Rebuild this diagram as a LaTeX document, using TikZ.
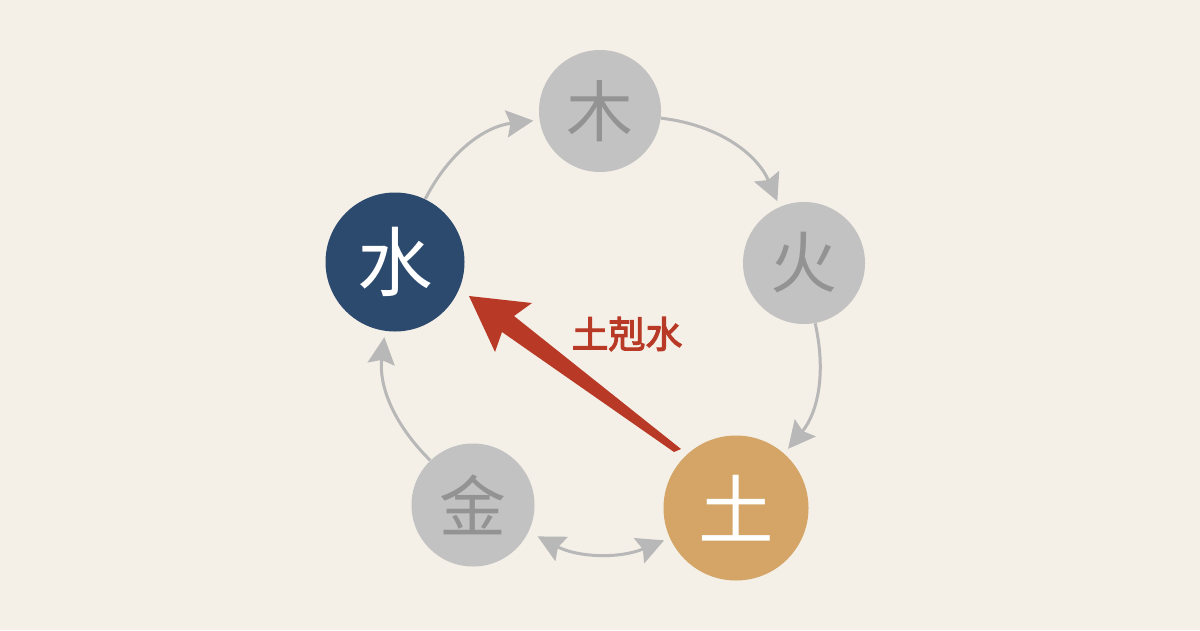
\documentclass[tikz,border=0pt]{standalone}
\usepackage{fontspec}
\setmainfont{Noto Sans CJK SC}
\newfontfamily\kefont{Noto Sans CJK SC}[FakeBold=3]
\usepackage{xcolor}
\usetikzlibrary{arrows.meta, positioning, calc}

\definecolor{paper}{HTML}{F4EFE7}
\definecolor{ashgray}{HTML}{C2C2C2}
\definecolor{inkgray}{HTML}{939393}
\definecolor{linegray}{HTML}{B8B8B8}
\definecolor{waterblue}{HTML}{2C4A6E}
\definecolor{earthgold}{HTML}{D4A566}
\definecolor{brushred}{HTML}{B83A26}

\begin{document}
\begin{tikzpicture}[
    >={Stealth[length=0.54cm, width=0.54cm, inset=0.08cm]},
    element/.style={circle, inner sep=0pt, minimum size=2.44cm, fill=ashgray, text=inkgray,
                    font=\fontsize{38}{38}\selectfont},
    active/.style={element, text=white, font=\fontsize{43}{43}\selectfont},
    flow/.style={->, line width=0.06cm, draw=linegray, shorten >=0.12cm}
]
    % Background
    \fill[paper] (0, 0) rectangle (24, 12.6);

    % Elements
    \node[element] (mu) at (12.0, 10.38) {木};
    \node[element] (huo) at (16.08, 7.34) {火};
    \node[active, fill=earthgold, minimum size=2.9cm] (tu) at (14.72, 2.44) {土};
    \node[element, minimum size=2.46cm] (jin) at (9.46, 2.5) {金};
    \node[active, fill=waterblue, minimum size=2.78cm] (shui) at (7.9, 7.36) {水};

    % Generating cycle
    \draw[flow] (shui) to[bend left=28] (mu);
    \draw[flow] (mu) to[bend left=30] (huo);
    \draw[flow] (huo) to[bend left=26] (tu);
    \draw[flow] (jin) to[bend left=26] (shui);
    \draw[flow, <->, shorten <=0.2cm] (jin) to[bend right=25] (tu);

    % Overcoming stroke
    \fill[brushred] (9.38, 6.68) -- (10.64, 6.54) -- (10.28, 6.28) -- (13.62, 3.62)
        -- (13.48, 3.56) -- (10.04, 5.96) -- (9.90, 5.56) -- cycle;
    \node[text=brushred, font=\fontsize{21}{21}\kefont] (ke) at (12.54, 5.92) {土剋水};
\end{tikzpicture}
\end{document}
